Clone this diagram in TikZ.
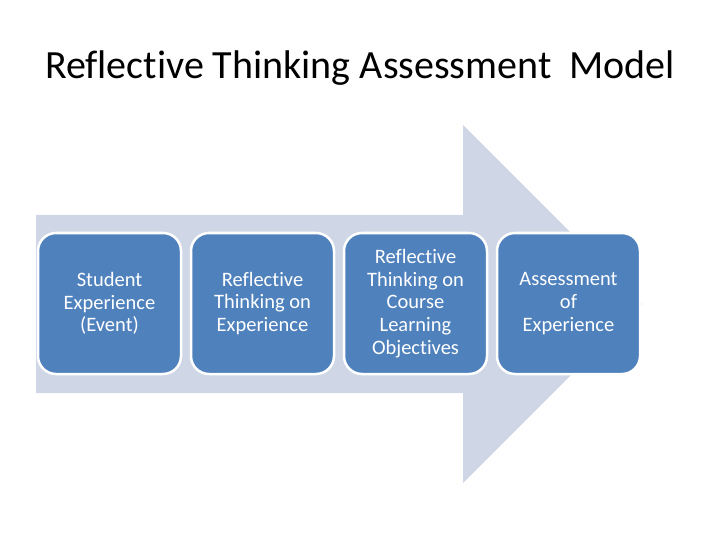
\documentclass[tikz,border=0pt]{standalone}
\usepackage{fontspec}
\setmainfont{Carlito}[Ligatures=NoCommon]
\definecolor{arrowgray}{HTML}{CFD7E6}
\definecolor{boxblue}{HTML}{4F81BD}

\begin{document}
\begin{tikzpicture}
  [x=1pt,y=-1pt,every node/.style={rounded corners=18pt,fill=boxblue,draw=white,line width=2.5pt,
   minimum width=143pt,minimum height=141pt,text=white,align=center,
   font=\fontsize{20.5}{22.7}\selectfont}]
  \useasboundingbox (0,0) rectangle (720,540);
  \node[fill=none,draw=none,rounded corners=0pt,text=black,minimum width=0pt,minimum height=0pt,
    font=\fontsize{40}{44}\selectfont] (title) at (360,68) {Reflective Thinking Assessment~ Model};
  % big arrow behind
  \fill[arrowgray] (36,215) -- (463,215) -- (463,125) -- (642,304) -- (463,483) -- (463,393) -- (36,393) -- cycle;
  \node (na) at (109.5,303.5) {Student\\Experience\\(Event)};
  \node (nb) at (262.5,303.5) {Reflective\\Thinking on\\Experience};
  \node (nc) at (415.5,303.5) {Reflective\\Thinking on\\Course\\Learning\\Objectives};
  \node (nd) at (568.5,303.5) {Assessment\\of\\Experience};
\end{tikzpicture}
\end{document}
